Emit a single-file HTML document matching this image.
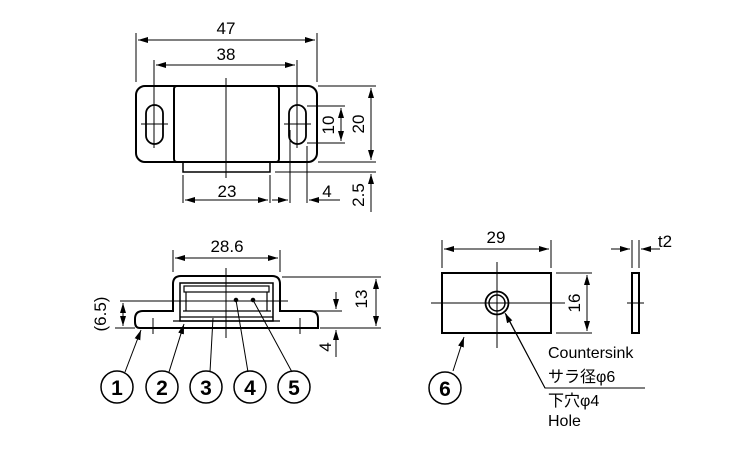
<!DOCTYPE html>
<html><head><meta charset="utf-8"><style>html,body{margin:0;padding:0;background:#fff}svg{display:block}</style></head><body>
<svg width="750" height="450" viewBox="0 0 750 450" xmlns="http://www.w3.org/2000/svg" font-family="Liberation Sans, Noto Sans CJK JP, sans-serif">
<defs>
<marker id="a" viewBox="0 0 10 6" refX="10" refY="3" markerWidth="10" markerHeight="6" orient="auto-start-reverse" markerUnits="userSpaceOnUse"><path d="M0,0L10,3L0,6z" fill="#000"/></marker>
</defs>
<g stroke="#000" fill="none">
<rect x="136" y="86" width="181" height="76" rx="9" stroke-width="2"/>
<rect x="174" y="86" width="105" height="76" rx="3" stroke-width="2"/>
<rect x="183" y="162" width="87" height="10" stroke-width="1.5"/>
<rect x="146" y="105" width="17" height="39" rx="8.5" stroke-width="1.8"/>
<rect x="289" y="105" width="17" height="39" rx="8.5" stroke-width="1.8"/>
<g stroke-width="1">
<line x1="226" y1="78" x2="226" y2="178"/>
<line x1="141" y1="124" x2="168" y2="124"/><line x1="284" y1="124" x2="311" y2="124"/>
<line x1="154" y1="60" x2="154" y2="148"/><line x1="297" y1="60" x2="297" y2="148"/>
<line x1="136" y1="33" x2="136" y2="82"/><line x1="317" y1="33" x2="317" y2="82"/>
<line x1="138" y1="40" x2="315" y2="40" marker-start="url(#a)" marker-end="url(#a)"/>
<line x1="156" y1="65" x2="295" y2="65" marker-start="url(#a)" marker-end="url(#a)"/>
<line x1="307" y1="106" x2="345" y2="106"/><line x1="307" y1="143" x2="345" y2="143"/>
<line x1="341" y1="108" x2="341" y2="141" marker-start="url(#a)" marker-end="url(#a)"/>
<line x1="318" y1="86" x2="376" y2="86"/><line x1="318" y1="162" x2="376" y2="162"/>
<line x1="371" y1="88" x2="371" y2="160" marker-start="url(#a)" marker-end="url(#a)"/>
<line x1="275" y1="172" x2="376" y2="172"/>
<line x1="371" y1="174" x2="371" y2="212" marker-start="url(#a)"/>
<line x1="183" y1="175" x2="183" y2="203"/><line x1="270" y1="175" x2="270" y2="203"/>
<line x1="185" y1="200" x2="268" y2="200" marker-start="url(#a)" marker-end="url(#a)"/>
<line x1="290" y1="130" x2="290" y2="203"/><line x1="307" y1="146" x2="307" y2="203"/>
<line x1="272" y1="200" x2="288" y2="200" marker-end="url(#a)"/>
<line x1="309" y1="200" x2="340" y2="200" marker-start="url(#a)"/>
</g>
<path d="M173,311 L173,284 Q173,276 181,276 L272,276 Q280,276 280,284 L280,311 L310,311 Q318,311 318,319 L318,328 L140,328 Q135,328 135,322 L135,319 Q135,311 143,311 Z" stroke-width="2"/>
<rect x="180" y="283" width="93" height="38" stroke-width="1.5"/>
<rect x="184" y="286" width="85" height="6" stroke-width="1.2"/>
<line x1="183" y1="311" x2="271" y2="311" stroke-width="1.2"/>
<line x1="180" y1="317" x2="273" y2="317" stroke-width="1.2"/>
<line x1="173" y1="321" x2="280" y2="321" stroke-width="1.2"/>
<line x1="186" y1="292" x2="186" y2="311" stroke-width="1.2"/>
<line x1="267" y1="292" x2="267" y2="311" stroke-width="1.2"/>
<g stroke-width="1">
<line x1="226" y1="268" x2="226" y2="338"/>
<line x1="120" y1="301" x2="288" y2="301"/>
<line x1="153" y1="318" x2="153" y2="334"/><line x1="300" y1="318" x2="300" y2="334"/>
<line x1="173" y1="250" x2="173" y2="272"/><line x1="280" y1="250" x2="280" y2="272"/>
<line x1="175" y1="258" x2="278" y2="258" marker-start="url(#a)" marker-end="url(#a)"/>
<line x1="123" y1="303" x2="123" y2="326" marker-start="url(#a)" marker-end="url(#a)"/>
<line x1="115" y1="328" x2="135" y2="328"/>
<line x1="282" y1="277" x2="381" y2="277"/>
<line x1="300" y1="311" x2="342" y2="311"/><line x1="320" y1="328" x2="381" y2="328"/>
<line x1="376" y1="279" x2="376" y2="326" marker-start="url(#a)" marker-end="url(#a)"/>
<line x1="336" y1="292" x2="336" y2="309" marker-end="url(#a)"/>
<line x1="336" y1="357" x2="336" y2="330" marker-end="url(#a)"/>
<line x1="125" y1="372" x2="141" y2="330" marker-end="url(#a)"/>
<line x1="169" y1="372" x2="184" y2="324" marker-end="url(#a)"/>
<line x1="210" y1="372" x2="213" y2="318"/>
<line x1="248" y1="372" x2="236" y2="300"/>
<line x1="292" y1="372" x2="253" y2="300"/>
</g>
<circle cx="236" cy="300" r="1.8" fill="#000"/><circle cx="253" cy="300" r="1.8" fill="#000"/>
<g stroke-width="1.5">
<circle cx="117" cy="387" r="16"/><circle cx="162" cy="387" r="16"/><circle cx="206" cy="387" r="16"/><circle cx="250" cy="387" r="16"/><circle cx="294" cy="387" r="16"/><circle cx="445" cy="388" r="16"/>
</g>
<rect x="442" y="273" width="109" height="60" stroke-width="2"/>
<circle cx="497" cy="303" r="11.5" stroke-width="1.8"/>
<circle cx="497" cy="303" r="8" stroke-width="1.5"/>
<rect x="632" y="273" width="7" height="60" stroke-width="2"/>
<g stroke-width="1">
<line x1="497" y1="262" x2="497" y2="348"/><line x1="431" y1="303" x2="565" y2="303"/>
<line x1="627" y1="303" x2="644" y2="303"/>
<line x1="442" y1="240" x2="442" y2="268"/><line x1="551" y1="240" x2="551" y2="268"/>
<line x1="444" y1="249" x2="549" y2="249" marker-start="url(#a)" marker-end="url(#a)"/>
<line x1="556" y1="273" x2="592" y2="273"/><line x1="556" y1="333" x2="592" y2="333"/>
<line x1="587" y1="275" x2="587" y2="331" marker-start="url(#a)" marker-end="url(#a)"/>
<line x1="632" y1="240" x2="632" y2="268"/><line x1="639" y1="240" x2="639" y2="268"/>
<line x1="611" y1="249" x2="630" y2="249" marker-end="url(#a)"/>
<line x1="660" y1="249" x2="641" y2="249" marker-end="url(#a)"/>
<line x1="453" y1="371" x2="464" y2="337" marker-end="url(#a)"/>
<polyline points="645,388 545,388 506,314"/>
<line x1="545" y1="388" x2="505" y2="313" marker-end="url(#a)"/>
</g>
</g>
<g font-size="17" fill="#000" text-anchor="middle">
<text x="226" y="34">47</text>
<text x="226" y="60">38</text>
<text x="227" y="197">23</text>
<text x="327" y="197">4</text>
<text transform="translate(334,125) rotate(-90)">10</text>
<text transform="translate(364,124) rotate(-90)">20</text>
<text transform="translate(364,195) rotate(-90)">2.5</text>
<text x="227" y="252">28.6</text>
<text transform="translate(106,314) rotate(-90)">(6.5)</text>
<text transform="translate(367,299) rotate(-90)">13</text>
<text transform="translate(331,347) rotate(-90)">4</text>
<text x="496" y="243">29</text>
<text transform="translate(580,303) rotate(-90)">16</text>
<text x="665" y="247">t2</text>
</g>
<g font-size="21" font-weight="bold" fill="#000" text-anchor="middle">
<text x="117" y="395">1</text><text x="162" y="395">2</text><text x="206" y="395">3</text><text x="250" y="395">4</text><text x="294" y="395">5</text><text x="445" y="396">6</text>
</g>
<g font-size="16" fill="#000">
<text x="548" y="358">Countersink</text>
<text x="548" y="382">サラ径φ6</text>
<text x="548" y="406">下穴φ4</text>
<text x="548" y="426">Hole</text>
</g>
</svg>
</body></html>
